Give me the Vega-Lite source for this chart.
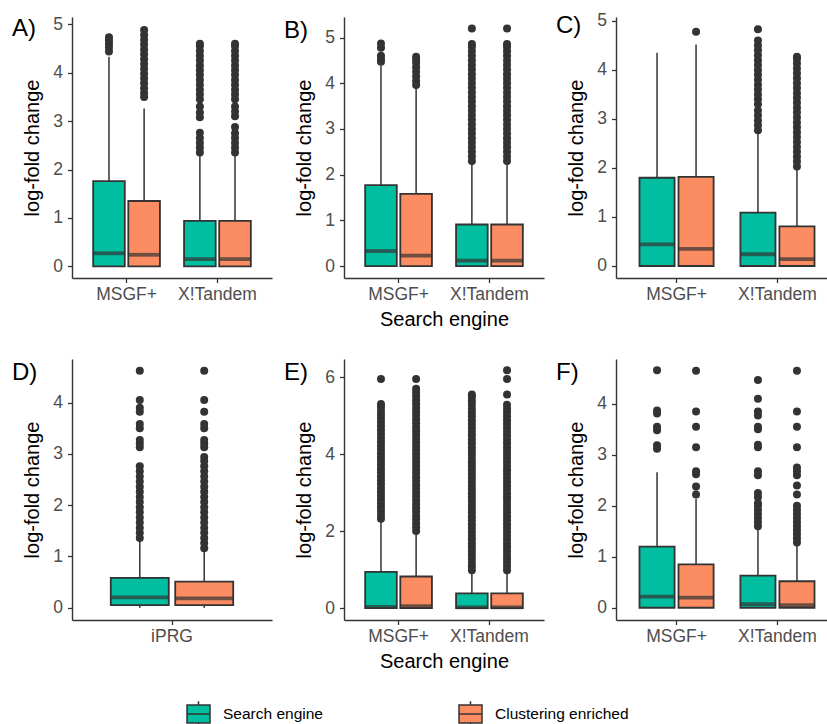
{
  "$schema": "https://vega.github.io/schema/vega-lite/v6.json",
  "background": "white",
  "padding": {"left": 12, "top": 11, "right": 0, "bottom": 0},
  "config": {
    "view": {"stroke": null},
    "font": "Liberation Sans",
    "axis": {"grid": false, "domainColor": "#333333", "domainWidth": 1.4, "tickColor": "#333333", "tickWidth": 1.3, "tickSize": 4.5, "labelColor": "#4D4D4D", "labelFontSize": 17.5, "labelFont": "Liberation Sans", "titleFont": "Liberation Sans", "titleFontSize": 20, "titleFontWeight": "normal", "titleColor": "#000000"},
    "axisY": {"labelPadding": 5, "titlePadding": 10},
    "axisX": {"labelPadding": 3, "titlePadding": 6, "labelAngle": 0},
    "title": {"anchor": "start", "frame": "group", "fontSize": 24, "fontWeight": "normal", "color": "#000000", "dx": -60, "offset": -26, "baseline": "top", "font": "Liberation Sans"}
  },
  "datasets": {
    "boxes": [
      {"p":"A","e":"MSGF+","g":"Search engine","lo":0,"q1":0,"med":0.27,"q3":1.76,"hi":4.33},
      {"p":"A","e":"MSGF+","g":"Clustering enriched","lo":0,"q1":0,"med":0.24,"q3":1.35,"hi":3.26},
      {"p":"A","e":"X!Tandem","g":"Search engine","lo":0,"q1":0,"med":0.15,"q3":0.94,"hi":2.31},
      {"p":"A","e":"X!Tandem","g":"Clustering enriched","lo":0,"q1":0,"med":0.15,"q3":0.94,"hi":2.31},
      {"p":"B","e":"MSGF+","g":"Search engine","lo":0,"q1":0,"med":0.33,"q3":1.77,"hi":4.39},
      {"p":"B","e":"MSGF+","g":"Clustering enriched","lo":0,"q1":0,"med":0.23,"q3":1.58,"hi":3.88},
      {"p":"B","e":"X!Tandem","g":"Search engine","lo":0,"q1":0,"med":0.12,"q3":0.91,"hi":2.24},
      {"p":"B","e":"X!Tandem","g":"Clustering enriched","lo":0,"q1":0,"med":0.12,"q3":0.91,"hi":2.24},
      {"p":"C","e":"MSGF+","g":"Search engine","lo":0,"q1":0,"med":0.44,"q3":1.8,"hi":4.35},
      {"p":"C","e":"MSGF+","g":"Clustering enriched","lo":0,"q1":0,"med":0.35,"q3":1.82,"hi":4.52},
      {"p":"C","e":"X!Tandem","g":"Search engine","lo":0,"q1":0,"med":0.24,"q3":1.09,"hi":2.7},
      {"p":"C","e":"X!Tandem","g":"Clustering enriched","lo":0,"q1":0,"med":0.14,"q3":0.81,"hi":1.99},
      {"p":"D","e":"iPRG","g":"Search engine","lo":0,"q1":0.05,"med":0.2,"q3":0.58,"hi":1.31},
      {"p":"D","e":"iPRG","g":"Clustering enriched","lo":0,"q1":0.05,"med":0.18,"q3":0.51,"hi":1.11},
      {"p":"E","e":"MSGF+","g":"Search engine","lo":0,"q1":0,"med":0.03,"q3":0.94,"hi":2.27},
      {"p":"E","e":"MSGF+","g":"Clustering enriched","lo":0,"q1":0,"med":0.05,"q3":0.82,"hi":1.96},
      {"p":"E","e":"X!Tandem","g":"Search engine","lo":0,"q1":0,"med":0.02,"q3":0.38,"hi":0.94},
      {"p":"E","e":"X!Tandem","g":"Clustering enriched","lo":0,"q1":0,"med":0.02,"q3":0.38,"hi":0.94},
      {"p":"F","e":"MSGF+","g":"Search engine","lo":0,"q1":0,"med":0.22,"q3":1.2,"hi":2.66},
      {"p":"F","e":"MSGF+","g":"Clustering enriched","lo":0,"q1":0,"med":0.2,"q3":0.85,"hi":2.14},
      {"p":"F","e":"X!Tandem","g":"Search engine","lo":0,"q1":0,"med":0.07,"q3":0.63,"hi":1.55},
      {"p":"F","e":"X!Tandem","g":"Clustering enriched","lo":0,"q1":0,"med":0.05,"q3":0.52,"hi":1.24}
    ],
    "outs": [
      {"p":"A","e":"MSGF+","g":"Search engine","v":4.44},{"p":"A","e":"MSGF+","g":"Search engine","v":4.52},{"p":"A","e":"MSGF+","g":"Search engine","v":4.6},{"p":"A","e":"MSGF+","g":"Search engine","v":4.67},{"p":"A","e":"MSGF+","g":"Search engine","v":4.73},
      {"p":"A","e":"MSGF+","g":"Clustering enriched","v":3.5},{"p":"A","e":"MSGF+","g":"Clustering enriched","v":3.58},{"p":"A","e":"MSGF+","g":"Clustering enriched","v":3.68},{"p":"A","e":"MSGF+","g":"Clustering enriched","v":3.78},{"p":"A","e":"MSGF+","g":"Clustering enriched","v":3.88},{"p":"A","e":"MSGF+","g":"Clustering enriched","v":3.98},{"p":"A","e":"MSGF+","g":"Clustering enriched","v":4.08},{"p":"A","e":"MSGF+","g":"Clustering enriched","v":4.18},{"p":"A","e":"MSGF+","g":"Clustering enriched","v":4.28},{"p":"A","e":"MSGF+","g":"Clustering enriched","v":4.38},{"p":"A","e":"MSGF+","g":"Clustering enriched","v":4.48},{"p":"A","e":"MSGF+","g":"Clustering enriched","v":4.58},{"p":"A","e":"MSGF+","g":"Clustering enriched","v":4.68},{"p":"A","e":"MSGF+","g":"Clustering enriched","v":4.78},{"p":"A","e":"MSGF+","g":"Clustering enriched","v":4.88},
      {"p":"A","e":"X!Tandem","g":"Search engine","v":2.35},{"p":"A","e":"X!Tandem","g":"Search engine","v":2.45},{"p":"A","e":"X!Tandem","g":"Search engine","v":2.55},{"p":"A","e":"X!Tandem","g":"Search engine","v":2.65},{"p":"A","e":"X!Tandem","g":"Search engine","v":2.76},{"p":"A","e":"X!Tandem","g":"Search engine","v":3.08},{"p":"A","e":"X!Tandem","g":"Search engine","v":3.18},{"p":"A","e":"X!Tandem","g":"Search engine","v":3.3},{"p":"A","e":"X!Tandem","g":"Search engine","v":3.45},{"p":"A","e":"X!Tandem","g":"Search engine","v":3.55},{"p":"A","e":"X!Tandem","g":"Search engine","v":3.65},{"p":"A","e":"X!Tandem","g":"Search engine","v":3.75},{"p":"A","e":"X!Tandem","g":"Search engine","v":3.85},{"p":"A","e":"X!Tandem","g":"Search engine","v":3.95},{"p":"A","e":"X!Tandem","g":"Search engine","v":4.05},{"p":"A","e":"X!Tandem","g":"Search engine","v":4.15},{"p":"A","e":"X!Tandem","g":"Search engine","v":4.25},{"p":"A","e":"X!Tandem","g":"Search engine","v":4.35},{"p":"A","e":"X!Tandem","g":"Search engine","v":4.45},{"p":"A","e":"X!Tandem","g":"Search engine","v":4.55},{"p":"A","e":"X!Tandem","g":"Search engine","v":4.6},
      {"p":"A","e":"X!Tandem","g":"Clustering enriched","v":2.35},{"p":"A","e":"X!Tandem","g":"Clustering enriched","v":2.45},{"p":"A","e":"X!Tandem","g":"Clustering enriched","v":2.55},{"p":"A","e":"X!Tandem","g":"Clustering enriched","v":2.65},{"p":"A","e":"X!Tandem","g":"Clustering enriched","v":2.75},{"p":"A","e":"X!Tandem","g":"Clustering enriched","v":2.88},{"p":"A","e":"X!Tandem","g":"Clustering enriched","v":3.1},{"p":"A","e":"X!Tandem","g":"Clustering enriched","v":3.2},{"p":"A","e":"X!Tandem","g":"Clustering enriched","v":3.3},{"p":"A","e":"X!Tandem","g":"Clustering enriched","v":3.45},{"p":"A","e":"X!Tandem","g":"Clustering enriched","v":3.55},{"p":"A","e":"X!Tandem","g":"Clustering enriched","v":3.65},{"p":"A","e":"X!Tandem","g":"Clustering enriched","v":3.75},{"p":"A","e":"X!Tandem","g":"Clustering enriched","v":3.85},{"p":"A","e":"X!Tandem","g":"Clustering enriched","v":3.95},{"p":"A","e":"X!Tandem","g":"Clustering enriched","v":4.05},{"p":"A","e":"X!Tandem","g":"Clustering enriched","v":4.15},{"p":"A","e":"X!Tandem","g":"Clustering enriched","v":4.25},{"p":"A","e":"X!Tandem","g":"Clustering enriched","v":4.35},{"p":"A","e":"X!Tandem","g":"Clustering enriched","v":4.45},{"p":"A","e":"X!Tandem","g":"Clustering enriched","v":4.55},{"p":"A","e":"X!Tandem","g":"Clustering enriched","v":4.6},

      {"p":"B","e":"MSGF+","g":"Search engine","v":4.47},{"p":"B","e":"MSGF+","g":"Search engine","v":4.53},{"p":"B","e":"MSGF+","g":"Search engine","v":4.6},{"p":"B","e":"MSGF+","g":"Search engine","v":4.78},{"p":"B","e":"MSGF+","g":"Search engine","v":4.87},
      {"p":"B","e":"MSGF+","g":"Clustering enriched","v":3.96},{"p":"B","e":"MSGF+","g":"Clustering enriched","v":4.05},{"p":"B","e":"MSGF+","g":"Clustering enriched","v":4.15},{"p":"B","e":"MSGF+","g":"Clustering enriched","v":4.25},{"p":"B","e":"MSGF+","g":"Clustering enriched","v":4.35},{"p":"B","e":"MSGF+","g":"Clustering enriched","v":4.45},{"p":"B","e":"MSGF+","g":"Clustering enriched","v":4.53},{"p":"B","e":"MSGF+","g":"Clustering enriched","v":4.58},
      {"p":"B","e":"X!Tandem","g":"Search engine","v":2.3},{"p":"B","e":"X!Tandem","g":"Search engine","v":2.4},{"p":"B","e":"X!Tandem","g":"Search engine","v":2.5},{"p":"B","e":"X!Tandem","g":"Search engine","v":2.6},{"p":"B","e":"X!Tandem","g":"Search engine","v":2.7},{"p":"B","e":"X!Tandem","g":"Search engine","v":2.8},{"p":"B","e":"X!Tandem","g":"Search engine","v":2.9},{"p":"B","e":"X!Tandem","g":"Search engine","v":3.0},{"p":"B","e":"X!Tandem","g":"Search engine","v":3.1},{"p":"B","e":"X!Tandem","g":"Search engine","v":3.2},{"p":"B","e":"X!Tandem","g":"Search engine","v":3.3},{"p":"B","e":"X!Tandem","g":"Search engine","v":3.4},{"p":"B","e":"X!Tandem","g":"Search engine","v":3.5},{"p":"B","e":"X!Tandem","g":"Search engine","v":3.6},{"p":"B","e":"X!Tandem","g":"Search engine","v":3.7},{"p":"B","e":"X!Tandem","g":"Search engine","v":3.8},{"p":"B","e":"X!Tandem","g":"Search engine","v":3.9},{"p":"B","e":"X!Tandem","g":"Search engine","v":4.0},{"p":"B","e":"X!Tandem","g":"Search engine","v":4.1},{"p":"B","e":"X!Tandem","g":"Search engine","v":4.2},{"p":"B","e":"X!Tandem","g":"Search engine","v":4.3},{"p":"B","e":"X!Tandem","g":"Search engine","v":4.4},{"p":"B","e":"X!Tandem","g":"Search engine","v":4.5},{"p":"B","e":"X!Tandem","g":"Search engine","v":4.6},{"p":"B","e":"X!Tandem","g":"Search engine","v":4.7},{"p":"B","e":"X!Tandem","g":"Search engine","v":4.8},{"p":"B","e":"X!Tandem","g":"Search engine","v":4.86},{"p":"B","e":"X!Tandem","g":"Search engine","v":5.2},
      {"p":"B","e":"X!Tandem","g":"Clustering enriched","v":2.3},{"p":"B","e":"X!Tandem","g":"Clustering enriched","v":2.4},{"p":"B","e":"X!Tandem","g":"Clustering enriched","v":2.5},{"p":"B","e":"X!Tandem","g":"Clustering enriched","v":2.6},{"p":"B","e":"X!Tandem","g":"Clustering enriched","v":2.7},{"p":"B","e":"X!Tandem","g":"Clustering enriched","v":2.8},{"p":"B","e":"X!Tandem","g":"Clustering enriched","v":2.9},{"p":"B","e":"X!Tandem","g":"Clustering enriched","v":3.0},{"p":"B","e":"X!Tandem","g":"Clustering enriched","v":3.1},{"p":"B","e":"X!Tandem","g":"Clustering enriched","v":3.2},{"p":"B","e":"X!Tandem","g":"Clustering enriched","v":3.3},{"p":"B","e":"X!Tandem","g":"Clustering enriched","v":3.4},{"p":"B","e":"X!Tandem","g":"Clustering enriched","v":3.5},{"p":"B","e":"X!Tandem","g":"Clustering enriched","v":3.6},{"p":"B","e":"X!Tandem","g":"Clustering enriched","v":3.7},{"p":"B","e":"X!Tandem","g":"Clustering enriched","v":3.8},{"p":"B","e":"X!Tandem","g":"Clustering enriched","v":3.9},{"p":"B","e":"X!Tandem","g":"Clustering enriched","v":4.0},{"p":"B","e":"X!Tandem","g":"Clustering enriched","v":4.1},{"p":"B","e":"X!Tandem","g":"Clustering enriched","v":4.2},{"p":"B","e":"X!Tandem","g":"Clustering enriched","v":4.3},{"p":"B","e":"X!Tandem","g":"Clustering enriched","v":4.4},{"p":"B","e":"X!Tandem","g":"Clustering enriched","v":4.5},{"p":"B","e":"X!Tandem","g":"Clustering enriched","v":4.6},{"p":"B","e":"X!Tandem","g":"Clustering enriched","v":4.7},{"p":"B","e":"X!Tandem","g":"Clustering enriched","v":4.8},{"p":"B","e":"X!Tandem","g":"Clustering enriched","v":4.86},{"p":"B","e":"X!Tandem","g":"Clustering enriched","v":5.2},

      {"p":"C","e":"MSGF+","g":"Clustering enriched","v":4.78},
      {"p":"C","e":"X!Tandem","g":"Search engine","v":2.77},{"p":"C","e":"X!Tandem","g":"Search engine","v":2.87},{"p":"C","e":"X!Tandem","g":"Search engine","v":2.97},{"p":"C","e":"X!Tandem","g":"Search engine","v":3.07},{"p":"C","e":"X!Tandem","g":"Search engine","v":3.17},{"p":"C","e":"X!Tandem","g":"Search engine","v":3.3},{"p":"C","e":"X!Tandem","g":"Search engine","v":3.4},{"p":"C","e":"X!Tandem","g":"Search engine","v":3.5},{"p":"C","e":"X!Tandem","g":"Search engine","v":3.6},{"p":"C","e":"X!Tandem","g":"Search engine","v":3.7},{"p":"C","e":"X!Tandem","g":"Search engine","v":3.8},{"p":"C","e":"X!Tandem","g":"Search engine","v":3.9},{"p":"C","e":"X!Tandem","g":"Search engine","v":4.0},{"p":"C","e":"X!Tandem","g":"Search engine","v":4.1},{"p":"C","e":"X!Tandem","g":"Search engine","v":4.2},{"p":"C","e":"X!Tandem","g":"Search engine","v":4.3},{"p":"C","e":"X!Tandem","g":"Search engine","v":4.4},{"p":"C","e":"X!Tandem","g":"Search engine","v":4.5},{"p":"C","e":"X!Tandem","g":"Search engine","v":4.6},{"p":"C","e":"X!Tandem","g":"Search engine","v":4.83},
      {"p":"C","e":"X!Tandem","g":"Clustering enriched","v":2.03},{"p":"C","e":"X!Tandem","g":"Clustering enriched","v":2.13},{"p":"C","e":"X!Tandem","g":"Clustering enriched","v":2.23},{"p":"C","e":"X!Tandem","g":"Clustering enriched","v":2.33},{"p":"C","e":"X!Tandem","g":"Clustering enriched","v":2.43},{"p":"C","e":"X!Tandem","g":"Clustering enriched","v":2.53},{"p":"C","e":"X!Tandem","g":"Clustering enriched","v":2.63},{"p":"C","e":"X!Tandem","g":"Clustering enriched","v":2.73},{"p":"C","e":"X!Tandem","g":"Clustering enriched","v":2.83},{"p":"C","e":"X!Tandem","g":"Clustering enriched","v":2.93},{"p":"C","e":"X!Tandem","g":"Clustering enriched","v":3.03},{"p":"C","e":"X!Tandem","g":"Clustering enriched","v":3.13},{"p":"C","e":"X!Tandem","g":"Clustering enriched","v":3.23},{"p":"C","e":"X!Tandem","g":"Clustering enriched","v":3.33},{"p":"C","e":"X!Tandem","g":"Clustering enriched","v":3.43},{"p":"C","e":"X!Tandem","g":"Clustering enriched","v":3.53},{"p":"C","e":"X!Tandem","g":"Clustering enriched","v":3.63},{"p":"C","e":"X!Tandem","g":"Clustering enriched","v":3.73},{"p":"C","e":"X!Tandem","g":"Clustering enriched","v":3.83},{"p":"C","e":"X!Tandem","g":"Clustering enriched","v":3.93},{"p":"C","e":"X!Tandem","g":"Clustering enriched","v":4.03},{"p":"C","e":"X!Tandem","g":"Clustering enriched","v":4.13},{"p":"C","e":"X!Tandem","g":"Clustering enriched","v":4.23},{"p":"C","e":"X!Tandem","g":"Clustering enriched","v":4.27},

      {"p":"D","e":"iPRG","g":"Search engine","v":1.36},{"p":"D","e":"iPRG","g":"Search engine","v":1.46},{"p":"D","e":"iPRG","g":"Search engine","v":1.56},{"p":"D","e":"iPRG","g":"Search engine","v":1.66},{"p":"D","e":"iPRG","g":"Search engine","v":1.76},{"p":"D","e":"iPRG","g":"Search engine","v":1.86},{"p":"D","e":"iPRG","g":"Search engine","v":1.96},{"p":"D","e":"iPRG","g":"Search engine","v":2.06},{"p":"D","e":"iPRG","g":"Search engine","v":2.16},{"p":"D","e":"iPRG","g":"Search engine","v":2.26},{"p":"D","e":"iPRG","g":"Search engine","v":2.36},{"p":"D","e":"iPRG","g":"Search engine","v":2.46},{"p":"D","e":"iPRG","g":"Search engine","v":2.56},{"p":"D","e":"iPRG","g":"Search engine","v":2.66},{"p":"D","e":"iPRG","g":"Search engine","v":2.76},{"p":"D","e":"iPRG","g":"Search engine","v":3.13},{"p":"D","e":"iPRG","g":"Search engine","v":3.2},{"p":"D","e":"iPRG","g":"Search engine","v":3.27},{"p":"D","e":"iPRG","g":"Search engine","v":3.5},{"p":"D","e":"iPRG","g":"Search engine","v":3.58},{"p":"D","e":"iPRG","g":"Search engine","v":3.82},{"p":"D","e":"iPRG","g":"Search engine","v":3.9},{"p":"D","e":"iPRG","g":"Search engine","v":4.05},{"p":"D","e":"iPRG","g":"Search engine","v":4.62},
      {"p":"D","e":"iPRG","g":"Clustering enriched","v":1.16},{"p":"D","e":"iPRG","g":"Clustering enriched","v":1.26},{"p":"D","e":"iPRG","g":"Clustering enriched","v":1.36},{"p":"D","e":"iPRG","g":"Clustering enriched","v":1.46},{"p":"D","e":"iPRG","g":"Clustering enriched","v":1.56},{"p":"D","e":"iPRG","g":"Clustering enriched","v":1.66},{"p":"D","e":"iPRG","g":"Clustering enriched","v":1.76},{"p":"D","e":"iPRG","g":"Clustering enriched","v":1.86},{"p":"D","e":"iPRG","g":"Clustering enriched","v":1.96},{"p":"D","e":"iPRG","g":"Clustering enriched","v":2.06},{"p":"D","e":"iPRG","g":"Clustering enriched","v":2.16},{"p":"D","e":"iPRG","g":"Clustering enriched","v":2.26},{"p":"D","e":"iPRG","g":"Clustering enriched","v":2.36},{"p":"D","e":"iPRG","g":"Clustering enriched","v":2.46},{"p":"D","e":"iPRG","g":"Clustering enriched","v":2.56},{"p":"D","e":"iPRG","g":"Clustering enriched","v":2.66},{"p":"D","e":"iPRG","g":"Clustering enriched","v":2.76},{"p":"D","e":"iPRG","g":"Clustering enriched","v":2.86},{"p":"D","e":"iPRG","g":"Clustering enriched","v":2.94},{"p":"D","e":"iPRG","g":"Clustering enriched","v":3.13},{"p":"D","e":"iPRG","g":"Clustering enriched","v":3.2},{"p":"D","e":"iPRG","g":"Clustering enriched","v":3.27},{"p":"D","e":"iPRG","g":"Clustering enriched","v":3.5},{"p":"D","e":"iPRG","g":"Clustering enriched","v":3.58},{"p":"D","e":"iPRG","g":"Clustering enriched","v":3.82},{"p":"D","e":"iPRG","g":"Clustering enriched","v":4.05},{"p":"D","e":"iPRG","g":"Clustering enriched","v":4.62},

      {"p":"E","e":"MSGF+","g":"Search engine","v":2.32},{"p":"E","e":"MSGF+","g":"Search engine","v":2.42},{"p":"E","e":"MSGF+","g":"Search engine","v":2.52},{"p":"E","e":"MSGF+","g":"Search engine","v":2.62},{"p":"E","e":"MSGF+","g":"Search engine","v":2.72},{"p":"E","e":"MSGF+","g":"Search engine","v":2.82},{"p":"E","e":"MSGF+","g":"Search engine","v":2.92},{"p":"E","e":"MSGF+","g":"Search engine","v":3.02},{"p":"E","e":"MSGF+","g":"Search engine","v":3.12},{"p":"E","e":"MSGF+","g":"Search engine","v":3.22},{"p":"E","e":"MSGF+","g":"Search engine","v":3.32},{"p":"E","e":"MSGF+","g":"Search engine","v":3.42},{"p":"E","e":"MSGF+","g":"Search engine","v":3.52},{"p":"E","e":"MSGF+","g":"Search engine","v":3.62},{"p":"E","e":"MSGF+","g":"Search engine","v":3.72},{"p":"E","e":"MSGF+","g":"Search engine","v":3.82},{"p":"E","e":"MSGF+","g":"Search engine","v":3.92},{"p":"E","e":"MSGF+","g":"Search engine","v":4.02},{"p":"E","e":"MSGF+","g":"Search engine","v":4.12},{"p":"E","e":"MSGF+","g":"Search engine","v":4.22},{"p":"E","e":"MSGF+","g":"Search engine","v":4.32},{"p":"E","e":"MSGF+","g":"Search engine","v":4.42},{"p":"E","e":"MSGF+","g":"Search engine","v":4.52},{"p":"E","e":"MSGF+","g":"Search engine","v":4.62},{"p":"E","e":"MSGF+","g":"Search engine","v":4.72},{"p":"E","e":"MSGF+","g":"Search engine","v":4.82},{"p":"E","e":"MSGF+","g":"Search engine","v":4.92},{"p":"E","e":"MSGF+","g":"Search engine","v":5.02},{"p":"E","e":"MSGF+","g":"Search engine","v":5.12},{"p":"E","e":"MSGF+","g":"Search engine","v":5.22},{"p":"E","e":"MSGF+","g":"Search engine","v":5.3},{"p":"E","e":"MSGF+","g":"Search engine","v":5.95},
      {"p":"E","e":"MSGF+","g":"Clustering enriched","v":2.0},{"p":"E","e":"MSGF+","g":"Clustering enriched","v":2.1},{"p":"E","e":"MSGF+","g":"Clustering enriched","v":2.2},{"p":"E","e":"MSGF+","g":"Clustering enriched","v":2.3},{"p":"E","e":"MSGF+","g":"Clustering enriched","v":2.4},{"p":"E","e":"MSGF+","g":"Clustering enriched","v":2.5},{"p":"E","e":"MSGF+","g":"Clustering enriched","v":2.6},{"p":"E","e":"MSGF+","g":"Clustering enriched","v":2.7},{"p":"E","e":"MSGF+","g":"Clustering enriched","v":2.8},{"p":"E","e":"MSGF+","g":"Clustering enriched","v":2.9},{"p":"E","e":"MSGF+","g":"Clustering enriched","v":3.0},{"p":"E","e":"MSGF+","g":"Clustering enriched","v":3.1},{"p":"E","e":"MSGF+","g":"Clustering enriched","v":3.2},{"p":"E","e":"MSGF+","g":"Clustering enriched","v":3.3},{"p":"E","e":"MSGF+","g":"Clustering enriched","v":3.4},{"p":"E","e":"MSGF+","g":"Clustering enriched","v":3.5},{"p":"E","e":"MSGF+","g":"Clustering enriched","v":3.6},{"p":"E","e":"MSGF+","g":"Clustering enriched","v":3.7},{"p":"E","e":"MSGF+","g":"Clustering enriched","v":3.8},{"p":"E","e":"MSGF+","g":"Clustering enriched","v":3.9},{"p":"E","e":"MSGF+","g":"Clustering enriched","v":4.0},{"p":"E","e":"MSGF+","g":"Clustering enriched","v":4.1},{"p":"E","e":"MSGF+","g":"Clustering enriched","v":4.2},{"p":"E","e":"MSGF+","g":"Clustering enriched","v":4.3},{"p":"E","e":"MSGF+","g":"Clustering enriched","v":4.4},{"p":"E","e":"MSGF+","g":"Clustering enriched","v":4.5},{"p":"E","e":"MSGF+","g":"Clustering enriched","v":4.6},{"p":"E","e":"MSGF+","g":"Clustering enriched","v":4.7},{"p":"E","e":"MSGF+","g":"Clustering enriched","v":4.8},{"p":"E","e":"MSGF+","g":"Clustering enriched","v":4.9},{"p":"E","e":"MSGF+","g":"Clustering enriched","v":5.0},{"p":"E","e":"MSGF+","g":"Clustering enriched","v":5.1},{"p":"E","e":"MSGF+","g":"Clustering enriched","v":5.2},{"p":"E","e":"MSGF+","g":"Clustering enriched","v":5.3},{"p":"E","e":"MSGF+","g":"Clustering enriched","v":5.4},{"p":"E","e":"MSGF+","g":"Clustering enriched","v":5.5},{"p":"E","e":"MSGF+","g":"Clustering enriched","v":5.6},{"p":"E","e":"MSGF+","g":"Clustering enriched","v":5.7},{"p":"E","e":"MSGF+","g":"Clustering enriched","v":5.95},
      {"p":"E","e":"X!Tandem","g":"Search engine","v":0.98},{"p":"E","e":"X!Tandem","g":"Search engine","v":1.08},{"p":"E","e":"X!Tandem","g":"Search engine","v":1.18},{"p":"E","e":"X!Tandem","g":"Search engine","v":1.28},{"p":"E","e":"X!Tandem","g":"Search engine","v":1.38},{"p":"E","e":"X!Tandem","g":"Search engine","v":1.48},{"p":"E","e":"X!Tandem","g":"Search engine","v":1.58},{"p":"E","e":"X!Tandem","g":"Search engine","v":1.68},{"p":"E","e":"X!Tandem","g":"Search engine","v":1.78},{"p":"E","e":"X!Tandem","g":"Search engine","v":1.88},{"p":"E","e":"X!Tandem","g":"Search engine","v":1.98},{"p":"E","e":"X!Tandem","g":"Search engine","v":2.08},{"p":"E","e":"X!Tandem","g":"Search engine","v":2.18},{"p":"E","e":"X!Tandem","g":"Search engine","v":2.28},{"p":"E","e":"X!Tandem","g":"Search engine","v":2.38},{"p":"E","e":"X!Tandem","g":"Search engine","v":2.48},{"p":"E","e":"X!Tandem","g":"Search engine","v":2.58},{"p":"E","e":"X!Tandem","g":"Search engine","v":2.68},{"p":"E","e":"X!Tandem","g":"Search engine","v":2.78},{"p":"E","e":"X!Tandem","g":"Search engine","v":2.88},{"p":"E","e":"X!Tandem","g":"Search engine","v":2.98},{"p":"E","e":"X!Tandem","g":"Search engine","v":3.08},{"p":"E","e":"X!Tandem","g":"Search engine","v":3.18},{"p":"E","e":"X!Tandem","g":"Search engine","v":3.28},{"p":"E","e":"X!Tandem","g":"Search engine","v":3.38},{"p":"E","e":"X!Tandem","g":"Search engine","v":3.48},{"p":"E","e":"X!Tandem","g":"Search engine","v":3.58},{"p":"E","e":"X!Tandem","g":"Search engine","v":3.68},{"p":"E","e":"X!Tandem","g":"Search engine","v":3.78},{"p":"E","e":"X!Tandem","g":"Search engine","v":3.88},{"p":"E","e":"X!Tandem","g":"Search engine","v":3.98},{"p":"E","e":"X!Tandem","g":"Search engine","v":4.08},{"p":"E","e":"X!Tandem","g":"Search engine","v":4.18},{"p":"E","e":"X!Tandem","g":"Search engine","v":4.28},{"p":"E","e":"X!Tandem","g":"Search engine","v":4.38},{"p":"E","e":"X!Tandem","g":"Search engine","v":4.48},{"p":"E","e":"X!Tandem","g":"Search engine","v":4.58},{"p":"E","e":"X!Tandem","g":"Search engine","v":4.68},{"p":"E","e":"X!Tandem","g":"Search engine","v":4.78},{"p":"E","e":"X!Tandem","g":"Search engine","v":4.88},{"p":"E","e":"X!Tandem","g":"Search engine","v":4.98},{"p":"E","e":"X!Tandem","g":"Search engine","v":5.08},{"p":"E","e":"X!Tandem","g":"Search engine","v":5.18},{"p":"E","e":"X!Tandem","g":"Search engine","v":5.28},{"p":"E","e":"X!Tandem","g":"Search engine","v":5.38},{"p":"E","e":"X!Tandem","g":"Search engine","v":5.48},{"p":"E","e":"X!Tandem","g":"Search engine","v":5.55},
      {"p":"E","e":"X!Tandem","g":"Clustering enriched","v":0.98},{"p":"E","e":"X!Tandem","g":"Clustering enriched","v":1.08},{"p":"E","e":"X!Tandem","g":"Clustering enriched","v":1.18},{"p":"E","e":"X!Tandem","g":"Clustering enriched","v":1.28},{"p":"E","e":"X!Tandem","g":"Clustering enriched","v":1.38},{"p":"E","e":"X!Tandem","g":"Clustering enriched","v":1.48},{"p":"E","e":"X!Tandem","g":"Clustering enriched","v":1.58},{"p":"E","e":"X!Tandem","g":"Clustering enriched","v":1.68},{"p":"E","e":"X!Tandem","g":"Clustering enriched","v":1.78},{"p":"E","e":"X!Tandem","g":"Clustering enriched","v":1.88},{"p":"E","e":"X!Tandem","g":"Clustering enriched","v":1.98},{"p":"E","e":"X!Tandem","g":"Clustering enriched","v":2.08},{"p":"E","e":"X!Tandem","g":"Clustering enriched","v":2.18},{"p":"E","e":"X!Tandem","g":"Clustering enriched","v":2.28},{"p":"E","e":"X!Tandem","g":"Clustering enriched","v":2.38},{"p":"E","e":"X!Tandem","g":"Clustering enriched","v":2.48},{"p":"E","e":"X!Tandem","g":"Clustering enriched","v":2.58},{"p":"E","e":"X!Tandem","g":"Clustering enriched","v":2.68},{"p":"E","e":"X!Tandem","g":"Clustering enriched","v":2.78},{"p":"E","e":"X!Tandem","g":"Clustering enriched","v":2.88},{"p":"E","e":"X!Tandem","g":"Clustering enriched","v":2.98},{"p":"E","e":"X!Tandem","g":"Clustering enriched","v":3.08},{"p":"E","e":"X!Tandem","g":"Clustering enriched","v":3.18},{"p":"E","e":"X!Tandem","g":"Clustering enriched","v":3.28},{"p":"E","e":"X!Tandem","g":"Clustering enriched","v":3.38},{"p":"E","e":"X!Tandem","g":"Clustering enriched","v":3.48},{"p":"E","e":"X!Tandem","g":"Clustering enriched","v":3.58},{"p":"E","e":"X!Tandem","g":"Clustering enriched","v":3.68},{"p":"E","e":"X!Tandem","g":"Clustering enriched","v":3.78},{"p":"E","e":"X!Tandem","g":"Clustering enriched","v":3.88},{"p":"E","e":"X!Tandem","g":"Clustering enriched","v":3.98},{"p":"E","e":"X!Tandem","g":"Clustering enriched","v":4.08},{"p":"E","e":"X!Tandem","g":"Clustering enriched","v":4.18},{"p":"E","e":"X!Tandem","g":"Clustering enriched","v":4.28},{"p":"E","e":"X!Tandem","g":"Clustering enriched","v":4.38},{"p":"E","e":"X!Tandem","g":"Clustering enriched","v":4.48},{"p":"E","e":"X!Tandem","g":"Clustering enriched","v":4.58},{"p":"E","e":"X!Tandem","g":"Clustering enriched","v":4.68},{"p":"E","e":"X!Tandem","g":"Clustering enriched","v":4.78},{"p":"E","e":"X!Tandem","g":"Clustering enriched","v":4.88},{"p":"E","e":"X!Tandem","g":"Clustering enriched","v":4.98},{"p":"E","e":"X!Tandem","g":"Clustering enriched","v":5.08},{"p":"E","e":"X!Tandem","g":"Clustering enriched","v":5.18},{"p":"E","e":"X!Tandem","g":"Clustering enriched","v":5.28},{"p":"E","e":"X!Tandem","g":"Clustering enriched","v":5.55},{"p":"E","e":"X!Tandem","g":"Clustering enriched","v":5.95},{"p":"E","e":"X!Tandem","g":"Clustering enriched","v":6.18},

      {"p":"F","e":"MSGF+","g":"Search engine","v":3.12},{"p":"F","e":"MSGF+","g":"Search engine","v":3.19},{"p":"F","e":"MSGF+","g":"Search engine","v":3.48},{"p":"F","e":"MSGF+","g":"Search engine","v":3.55},{"p":"F","e":"MSGF+","g":"Search engine","v":3.81},{"p":"F","e":"MSGF+","g":"Search engine","v":3.87},{"p":"F","e":"MSGF+","g":"Search engine","v":4.66},
      {"p":"F","e":"MSGF+","g":"Clustering enriched","v":2.22},{"p":"F","e":"MSGF+","g":"Clustering enriched","v":2.38},{"p":"F","e":"MSGF+","g":"Clustering enriched","v":2.62},{"p":"F","e":"MSGF+","g":"Clustering enriched","v":2.68},{"p":"F","e":"MSGF+","g":"Clustering enriched","v":3.15},{"p":"F","e":"MSGF+","g":"Clustering enriched","v":3.55},{"p":"F","e":"MSGF+","g":"Clustering enriched","v":3.85},{"p":"F","e":"MSGF+","g":"Clustering enriched","v":4.65},
      {"p":"F","e":"X!Tandem","g":"Search engine","v":1.6},{"p":"F","e":"X!Tandem","g":"Search engine","v":1.68},{"p":"F","e":"X!Tandem","g":"Search engine","v":1.76},{"p":"F","e":"X!Tandem","g":"Search engine","v":1.84},{"p":"F","e":"X!Tandem","g":"Search engine","v":1.92},{"p":"F","e":"X!Tandem","g":"Search engine","v":2.0},{"p":"F","e":"X!Tandem","g":"Search engine","v":2.05},{"p":"F","e":"X!Tandem","g":"Search engine","v":2.17},{"p":"F","e":"X!Tandem","g":"Search engine","v":2.25},{"p":"F","e":"X!Tandem","g":"Search engine","v":2.6},{"p":"F","e":"X!Tandem","g":"Search engine","v":2.68},{"p":"F","e":"X!Tandem","g":"Search engine","v":3.15},{"p":"F","e":"X!Tandem","g":"Search engine","v":3.2},{"p":"F","e":"X!Tandem","g":"Search engine","v":3.5},{"p":"F","e":"X!Tandem","g":"Search engine","v":3.55},{"p":"F","e":"X!Tandem","g":"Search engine","v":3.77},{"p":"F","e":"X!Tandem","g":"Search engine","v":3.85},{"p":"F","e":"X!Tandem","g":"Search engine","v":4.1},{"p":"F","e":"X!Tandem","g":"Search engine","v":4.47},
      {"p":"F","e":"X!Tandem","g":"Clustering enriched","v":1.28},{"p":"F","e":"X!Tandem","g":"Clustering enriched","v":1.36},{"p":"F","e":"X!Tandem","g":"Clustering enriched","v":1.44},{"p":"F","e":"X!Tandem","g":"Clustering enriched","v":1.52},{"p":"F","e":"X!Tandem","g":"Clustering enriched","v":1.6},{"p":"F","e":"X!Tandem","g":"Clustering enriched","v":1.68},{"p":"F","e":"X!Tandem","g":"Clustering enriched","v":1.76},{"p":"F","e":"X!Tandem","g":"Clustering enriched","v":1.84},{"p":"F","e":"X!Tandem","g":"Clustering enriched","v":1.92},{"p":"F","e":"X!Tandem","g":"Clustering enriched","v":2.0},{"p":"F","e":"X!Tandem","g":"Clustering enriched","v":2.22},{"p":"F","e":"X!Tandem","g":"Clustering enriched","v":2.4},{"p":"F","e":"X!Tandem","g":"Clustering enriched","v":2.6},{"p":"F","e":"X!Tandem","g":"Clustering enriched","v":2.68},{"p":"F","e":"X!Tandem","g":"Clustering enriched","v":2.75},{"p":"F","e":"X!Tandem","g":"Clustering enriched","v":3.15},{"p":"F","e":"X!Tandem","g":"Clustering enriched","v":3.55},{"p":"F","e":"X!Tandem","g":"Clustering enriched","v":3.85},{"p":"F","e":"X!Tandem","g":"Clustering enriched","v":4.65}
    ]
  },
  "columns": 3,
  "bounds": "flush",
  "spacing": {"row": 81, "column": 72},
  "resolve": {"scale": {"xOffset": "independent"}},
  "concat": [
    {
      "title": {"text": "A)"},
      "width": 200, "height": 261,
      "encoding": {
        "x": {"field": "e", "type": "nominal", "scale": {"domain": ["MSGF+", "X!Tandem"], "paddingInner": 0.25, "paddingOuter": 0.225}, "axis": {"title": null}},
        "xOffset": {"field": "g", "type": "nominal", "scale": {"domain": ["Search engine", "Clustering enriched"], "paddingInner": 0.1, "paddingOuter": 0.02}}
      },
      "layer": [
        {"data": {"name": "boxes"}, "transform": [{"filter": "datum.p === 'A'"}], "mark": {"type": "rule", "color": "#333333", "strokeWidth": 1.5}, "encoding": {"y": {"field": "q3", "type": "quantitative", "scale": {"domain": [-0.24, 5.15], "nice": false, "zero": false}, "axis": {"values": [0, 1, 2, 3, 4, 5], "title": "log-fold change"}}, "y2": {"field": "hi"}}},
        {"data": {"name": "boxes"}, "transform": [{"filter": "datum.p === 'A'"}], "mark": {"type": "rule", "color": "#333333", "strokeWidth": 1.5}, "encoding": {"y": {"field": "lo", "type": "quantitative"}, "y2": {"field": "q1"}}},
        {"data": {"name": "boxes"}, "transform": [{"filter": "datum.p === 'A'"}], "mark": {"type": "bar", "stroke": "#333333", "strokeWidth": 1.8}, "encoding": {"y": {"field": "q1", "type": "quantitative"}, "y2": {"field": "q3"}, "fill": {"field": "g", "type": "nominal", "scale": {"domain": ["Search engine", "Clustering enriched"], "range": ["#00BE9F", "#FC8D62"]}, "legend": {"orient": "none", "legendX": 114, "legendY": 684, "direction": "horizontal", "title": null, "symbolType": "M-1,-0.78H1V0.78H-1Z M-1,0H1 M0,-0.78V-1.1 M0,0.78V1.1", "symbolSize": 529, "symbolStrokeColor": "#333333", "symbolStrokeWidth": 1.5, "symbolOpacity": 1, "labelFontSize": 15.5, "labelColor": "#000000", "labelFont": "Liberation Sans", "labelOffset": 12, "columnPadding": 133, "padding": 0}}}},
        {"data": {"name": "boxes"}, "transform": [{"filter": "datum.p === 'A'"}], "mark": {"type": "tick", "color": "#333333", "thickness": 3.8, "size": 31.6, "orient": "horizontal"}, "encoding": {"y": {"field": "med", "type": "quantitative"}}},
        {"data": {"name": "outs"}, "transform": [{"filter": "datum.p === 'A'"}], "mark": {"type": "circle", "size": 64, "color": "#333333", "opacity": 1}, "encoding": {"y": {"field": "v", "type": "quantitative"}}}
      ]
    },
    {
      "title": {"text": "B)"},
      "width": 200, "height": 261,
      "encoding": {
        "x": {"field": "e", "type": "nominal", "scale": {"domain": ["MSGF+", "X!Tandem"], "paddingInner": 0.25, "paddingOuter": 0.225}, "axis": {"title": "Search engine"}},
        "xOffset": {"field": "g", "type": "nominal", "scale": {"domain": ["Search engine", "Clustering enriched"], "paddingInner": 0.1, "paddingOuter": 0.02}}
      },
      "layer": [
        {"data": {"name": "boxes"}, "transform": [{"filter": "datum.p === 'B'"}], "mark": {"type": "rule", "color": "#333333", "strokeWidth": 1.5}, "encoding": {"y": {"field": "q3", "type": "quantitative", "scale": {"domain": [-0.26, 5.45], "nice": false, "zero": false}, "axis": {"values": [0, 1, 2, 3, 4, 5], "title": "log-fold change"}}, "y2": {"field": "hi"}}},
        {"data": {"name": "boxes"}, "transform": [{"filter": "datum.p === 'B'"}], "mark": {"type": "rule", "color": "#333333", "strokeWidth": 1.5}, "encoding": {"y": {"field": "lo", "type": "quantitative"}, "y2": {"field": "q1"}}},
        {"data": {"name": "boxes"}, "transform": [{"filter": "datum.p === 'B'"}], "mark": {"type": "bar", "stroke": "#333333", "strokeWidth": 1.8}, "encoding": {"y": {"field": "q1", "type": "quantitative"}, "y2": {"field": "q3"}, "fill": {"field": "g", "type": "nominal", "scale": {"domain": ["Search engine", "Clustering enriched"], "range": ["#00BE9F", "#FC8D62"]}, "legend": {"orient": "none", "legendX": 114, "legendY": 684, "direction": "horizontal", "title": null, "symbolType": "M-1,-0.78H1V0.78H-1Z M-1,0H1 M0,-0.78V-1.1 M0,0.78V1.1", "symbolSize": 529, "symbolStrokeColor": "#333333", "symbolStrokeWidth": 1.5, "symbolOpacity": 1, "labelFontSize": 15.5, "labelColor": "#000000", "labelFont": "Liberation Sans", "labelOffset": 12, "columnPadding": 133, "padding": 0}}}},
        {"data": {"name": "boxes"}, "transform": [{"filter": "datum.p === 'B'"}], "mark": {"type": "tick", "color": "#333333", "thickness": 3.8, "size": 31.6, "orient": "horizontal"}, "encoding": {"y": {"field": "med", "type": "quantitative"}}},
        {"data": {"name": "outs"}, "transform": [{"filter": "datum.p === 'B'"}], "mark": {"type": "circle", "size": 64, "color": "#333333", "opacity": 1}, "encoding": {"y": {"field": "v", "type": "quantitative"}}}
      ]
    },
    {
      "title": {"text": "C)"},
      "width": 222, "height": 261,
      "encoding": {
        "x": {"field": "e", "type": "nominal", "scale": {"domain": ["MSGF+", "X!Tandem"], "paddingInner": 0.25, "paddingOuter": 0.225}, "axis": {"title": null}},
        "xOffset": {"field": "g", "type": "nominal", "scale": {"domain": ["Search engine", "Clustering enriched"], "paddingInner": 0.1, "paddingOuter": 0.02}}
      },
      "layer": [
        {"data": {"name": "boxes"}, "transform": [{"filter": "datum.p === 'C'"}], "mark": {"type": "rule", "color": "#333333", "strokeWidth": 1.5}, "encoding": {"y": {"field": "q3", "type": "quantitative", "scale": {"domain": [-0.245, 5.08], "nice": false, "zero": false}, "axis": {"values": [0, 1, 2, 3, 4, 5], "title": "log-fold change"}}, "y2": {"field": "hi"}}},
        {"data": {"name": "boxes"}, "transform": [{"filter": "datum.p === 'C'"}], "mark": {"type": "rule", "color": "#333333", "strokeWidth": 1.5}, "encoding": {"y": {"field": "lo", "type": "quantitative"}, "y2": {"field": "q1"}}},
        {"data": {"name": "boxes"}, "transform": [{"filter": "datum.p === 'C'"}], "mark": {"type": "bar", "stroke": "#333333", "strokeWidth": 1.8}, "encoding": {"y": {"field": "q1", "type": "quantitative"}, "y2": {"field": "q3"}, "fill": {"field": "g", "type": "nominal", "scale": {"domain": ["Search engine", "Clustering enriched"], "range": ["#00BE9F", "#FC8D62"]}, "legend": {"orient": "none", "legendX": 114, "legendY": 684, "direction": "horizontal", "title": null, "symbolType": "M-1,-0.78H1V0.78H-1Z M-1,0H1 M0,-0.78V-1.1 M0,0.78V1.1", "symbolSize": 529, "symbolStrokeColor": "#333333", "symbolStrokeWidth": 1.5, "symbolOpacity": 1, "labelFontSize": 15.5, "labelColor": "#000000", "labelFont": "Liberation Sans", "labelOffset": 12, "columnPadding": 133, "padding": 0}}}},
        {"data": {"name": "boxes"}, "transform": [{"filter": "datum.p === 'C'"}], "mark": {"type": "tick", "color": "#333333", "thickness": 3.8, "size": 35, "orient": "horizontal"}, "encoding": {"y": {"field": "med", "type": "quantitative"}}},
        {"data": {"name": "outs"}, "transform": [{"filter": "datum.p === 'C'"}], "mark": {"type": "circle", "size": 64, "color": "#333333", "opacity": 1}, "encoding": {"y": {"field": "v", "type": "quantitative"}}}
      ]
    },
    {
      "title": {"text": "D)"},
      "width": 200, "height": 261,
      "encoding": {
        "x": {"field": "e", "type": "nominal", "scale": {"domain": ["iPRG"], "paddingInner": 0.25, "paddingOuter": 0.225}, "axis": {"title": null}},
        "xOffset": {"field": "g", "type": "nominal", "scale": {"domain": ["Search engine", "Clustering enriched"], "paddingInner": 0.1, "paddingOuter": 0.02}}
      },
      "layer": [
        {"data": {"name": "boxes"}, "transform": [{"filter": "datum.p === 'D'"}], "mark": {"type": "rule", "color": "#333333", "strokeWidth": 1.5}, "encoding": {"y": {"field": "q3", "type": "quantitative", "scale": {"domain": [-0.24, 4.85], "nice": false, "zero": false}, "axis": {"values": [0, 1, 2, 3, 4], "title": "log-fold change"}}, "y2": {"field": "hi"}}},
        {"data": {"name": "boxes"}, "transform": [{"filter": "datum.p === 'D'"}], "mark": {"type": "rule", "color": "#333333", "strokeWidth": 1.5}, "encoding": {"y": {"field": "lo", "type": "quantitative"}, "y2": {"field": "q1"}}},
        {"data": {"name": "boxes"}, "transform": [{"filter": "datum.p === 'D'"}], "mark": {"type": "bar", "stroke": "#333333", "strokeWidth": 1.8}, "encoding": {"y": {"field": "q1", "type": "quantitative"}, "y2": {"field": "q3"}, "fill": {"field": "g", "type": "nominal", "scale": {"domain": ["Search engine", "Clustering enriched"], "range": ["#00BE9F", "#FC8D62"]}, "legend": {"orient": "none", "legendX": 114, "legendY": 684, "direction": "horizontal", "title": null, "symbolType": "M-1,-0.78H1V0.78H-1Z M-1,0H1 M0,-0.78V-1.1 M0,0.78V1.1", "symbolSize": 529, "symbolStrokeColor": "#333333", "symbolStrokeWidth": 1.5, "symbolOpacity": 1, "labelFontSize": 15.5, "labelColor": "#000000", "labelFont": "Liberation Sans", "labelOffset": 12, "columnPadding": 133, "padding": 0}}}},
        {"data": {"name": "boxes"}, "transform": [{"filter": "datum.p === 'D'"}], "mark": {"type": "tick", "color": "#333333", "thickness": 3.8, "size": 58, "orient": "horizontal"}, "encoding": {"y": {"field": "med", "type": "quantitative"}}},
        {"data": {"name": "outs"}, "transform": [{"filter": "datum.p === 'D'"}], "mark": {"type": "circle", "size": 64, "color": "#333333", "opacity": 1}, "encoding": {"y": {"field": "v", "type": "quantitative"}}}
      ]
    },
    {
      "title": {"text": "E)"},
      "width": 200, "height": 261,
      "encoding": {
        "x": {"field": "e", "type": "nominal", "scale": {"domain": ["MSGF+", "X!Tandem"], "paddingInner": 0.25, "paddingOuter": 0.225}, "axis": {"title": "Search engine"}},
        "xOffset": {"field": "g", "type": "nominal", "scale": {"domain": ["Search engine", "Clustering enriched"], "paddingInner": 0.1, "paddingOuter": 0.02}}
      },
      "layer": [
        {"data": {"name": "boxes"}, "transform": [{"filter": "datum.p === 'E'"}], "mark": {"type": "rule", "color": "#333333", "strokeWidth": 1.5}, "encoding": {"y": {"field": "q3", "type": "quantitative", "scale": {"domain": [-0.31, 6.47], "nice": false, "zero": false}, "axis": {"values": [0, 2, 4, 6], "title": "log-fold change"}}, "y2": {"field": "hi"}}},
        {"data": {"name": "boxes"}, "transform": [{"filter": "datum.p === 'E'"}], "mark": {"type": "rule", "color": "#333333", "strokeWidth": 1.5}, "encoding": {"y": {"field": "lo", "type": "quantitative"}, "y2": {"field": "q1"}}},
        {"data": {"name": "boxes"}, "transform": [{"filter": "datum.p === 'E'"}], "mark": {"type": "bar", "stroke": "#333333", "strokeWidth": 1.8}, "encoding": {"y": {"field": "q1", "type": "quantitative"}, "y2": {"field": "q3"}, "fill": {"field": "g", "type": "nominal", "scale": {"domain": ["Search engine", "Clustering enriched"], "range": ["#00BE9F", "#FC8D62"]}, "legend": {"orient": "none", "legendX": 114, "legendY": 684, "direction": "horizontal", "title": null, "symbolType": "M-1,-0.78H1V0.78H-1Z M-1,0H1 M0,-0.78V-1.1 M0,0.78V1.1", "symbolSize": 529, "symbolStrokeColor": "#333333", "symbolStrokeWidth": 1.5, "symbolOpacity": 1, "labelFontSize": 15.5, "labelColor": "#000000", "labelFont": "Liberation Sans", "labelOffset": 12, "columnPadding": 133, "padding": 0}}}},
        {"data": {"name": "boxes"}, "transform": [{"filter": "datum.p === 'E'"}], "mark": {"type": "tick", "color": "#333333", "thickness": 3.8, "size": 31.6, "orient": "horizontal"}, "encoding": {"y": {"field": "med", "type": "quantitative"}}},
        {"data": {"name": "outs"}, "transform": [{"filter": "datum.p === 'E'"}], "mark": {"type": "circle", "size": 64, "color": "#333333", "opacity": 1}, "encoding": {"y": {"field": "v", "type": "quantitative"}}}
      ]
    },
    {
      "title": {"text": "F)"},
      "width": 222, "height": 261,
      "encoding": {
        "x": {"field": "e", "type": "nominal", "scale": {"domain": ["MSGF+", "X!Tandem"], "paddingInner": 0.25, "paddingOuter": 0.225}, "axis": {"title": null}},
        "xOffset": {"field": "g", "type": "nominal", "scale": {"domain": ["Search engine", "Clustering enriched"], "paddingInner": 0.1, "paddingOuter": 0.02}}
      },
      "layer": [
        {"data": {"name": "boxes"}, "transform": [{"filter": "datum.p === 'F'"}], "mark": {"type": "rule", "color": "#333333", "strokeWidth": 1.5}, "encoding": {"y": {"field": "q3", "type": "quantitative", "scale": {"domain": [-0.24, 4.88], "nice": false, "zero": false}, "axis": {"values": [0, 1, 2, 3, 4], "title": "log-fold change"}}, "y2": {"field": "hi"}}},
        {"data": {"name": "boxes"}, "transform": [{"filter": "datum.p === 'F'"}], "mark": {"type": "rule", "color": "#333333", "strokeWidth": 1.5}, "encoding": {"y": {"field": "lo", "type": "quantitative"}, "y2": {"field": "q1"}}},
        {"data": {"name": "boxes"}, "transform": [{"filter": "datum.p === 'F'"}], "mark": {"type": "bar", "stroke": "#333333", "strokeWidth": 1.8}, "encoding": {"y": {"field": "q1", "type": "quantitative"}, "y2": {"field": "q3"}, "fill": {"field": "g", "type": "nominal", "scale": {"domain": ["Search engine", "Clustering enriched"], "range": ["#00BE9F", "#FC8D62"]}, "legend": {"orient": "none", "legendX": 114, "legendY": 684, "direction": "horizontal", "title": null, "symbolType": "M-1,-0.78H1V0.78H-1Z M-1,0H1 M0,-0.78V-1.1 M0,0.78V1.1", "symbolSize": 529, "symbolStrokeColor": "#333333", "symbolStrokeWidth": 1.5, "symbolOpacity": 1, "labelFontSize": 15.5, "labelColor": "#000000", "labelFont": "Liberation Sans", "labelOffset": 12, "columnPadding": 133, "padding": 0}}}},
        {"data": {"name": "boxes"}, "transform": [{"filter": "datum.p === 'F'"}], "mark": {"type": "tick", "color": "#333333", "thickness": 3.8, "size": 35, "orient": "horizontal"}, "encoding": {"y": {"field": "med", "type": "quantitative"}}},
        {"data": {"name": "outs"}, "transform": [{"filter": "datum.p === 'F'"}], "mark": {"type": "circle", "size": 64, "color": "#333333", "opacity": 1}, "encoding": {"y": {"field": "v", "type": "quantitative"}}}
      ]
    }
  ]
}
